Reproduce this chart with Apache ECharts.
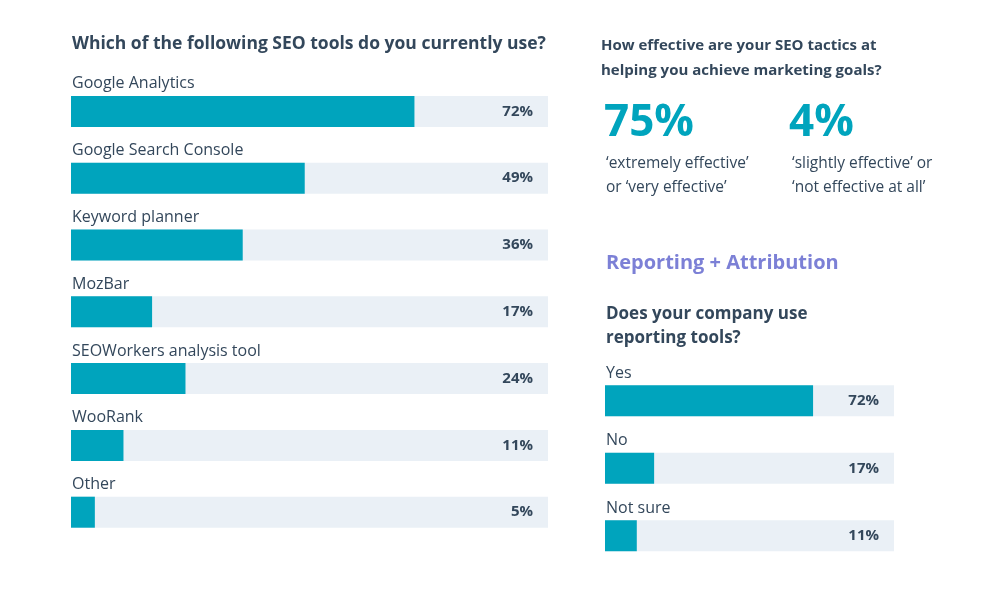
<!DOCTYPE html>
<html><head><meta charset="utf-8">
<script src="https://cdn.jsdelivr.net/npm/echarts@6/dist/echarts.min.js"></script>
<style>html,body{margin:0;padding:0;background:#fff}#c{width:1002px;height:592px}</style>
</head><body><div id="c"></div>
<script>
const toolCategories = ['Google Analytics','Google Search Console','Keyword planner','MozBar','SEOWorkers analysis tool','WooRank','Other'];
const toolValues = [72,49,36,17,24,11,5];
const reportCategories = ['Yes','No','Not sure'];
const reportValues = [72,17,11];
const FONT = '"Open Sans"';
const TEAL = '#00a4bd', TRACK = '#eaf0f6', DARK = '#33475b';

const chart = echarts.init(document.getElementById('c'));
function pair(idx, cats, vals){
  return [
    {type:'bar', xAxisIndex:idx, yAxisIndex:idx, data:cats.map(()=>100), barWidth:31, barGap:'-100%',
     silent:true, itemStyle:{color:TRACK}, z:1,
     label:{show:true, position:'insideRight', distance:15, formatter:p=>vals[p.dataIndex]+'%',
       fontFamily:FONT, fontWeight:'bold', fontSize:15, color:DARK}},
    {type:'bar', xAxisIndex:idx, yAxisIndex:idx, data:vals, barWidth:31, barGap:'-100%',
     itemStyle:{color:TEAL}, z:2,
     label:{show:true, position:[1,-12], align:'left', verticalAlign:'middle', formatter:'{b}',
       fontFamily:FONT, fontSize:16, color:DARK}}
  ];
}
chart.setOption({
  animation:false,
  grid:[{left:71, width:477, top:78, height:467.6},{left:605, width:289, top:367, height:202.5}],
  xAxis:[{type:'value', gridIndex:0, min:0, max:100, show:false},{type:'value', gridIndex:1, min:0, max:100, show:false}],
  yAxis:[{type:'category', gridIndex:0, data:toolCategories, inverse:true, show:false},
         {type:'category', gridIndex:1, data:reportCategories, inverse:true, show:false}],
  series:[...pair(0, toolCategories, toolValues), ...pair(1, reportCategories, reportValues)],
  graphic:[
    {type:'text', left:72, top:35, style:{text:'Which of the following SEO tools do you currently use?', font:`bold 17.5px ${FONT}`, fill:DARK}},
    {type:'text', left:601, top:33, style:{text:'How effective are your SEO tactics at\nhelping you achieve marketing goals?', font:`bold 15px ${FONT}`, fill:DARK, lineHeight:25}},
    {type:'text', left:604, top:101, style:{text:'75%', font:`bold 44px ${FONT}`, fill:TEAL}},
    {type:'text', left:789, top:101, style:{text:'4%', font:`bold 44px ${FONT}`, fill:TEAL}},
    {type:'text', left:606, top:152, style:{text:'\u2018extremely effective\u2019\nor \u2018very effective\u2019', font:`15.5px ${FONT}`, fill:DARK, lineHeight:24}},
    {type:'text', left:792, top:152, style:{text:'\u2018slightly effective\u2019 or\n\u2018not effective at all\u2019', font:`15.5px ${FONT}`, fill:DARK, lineHeight:24}},
    {type:'text', left:606, top:253, style:{text:'Reporting + Attribution', font:`bold 20px ${FONT}`, fill:'#7c80d6'}},
    {type:'text', left:606, top:302, style:{text:'Does your company use\nreporting tools?', font:`bold 17px ${FONT}`, fill:DARK, lineHeight:24}}
  ]
});
</script></body></html>
